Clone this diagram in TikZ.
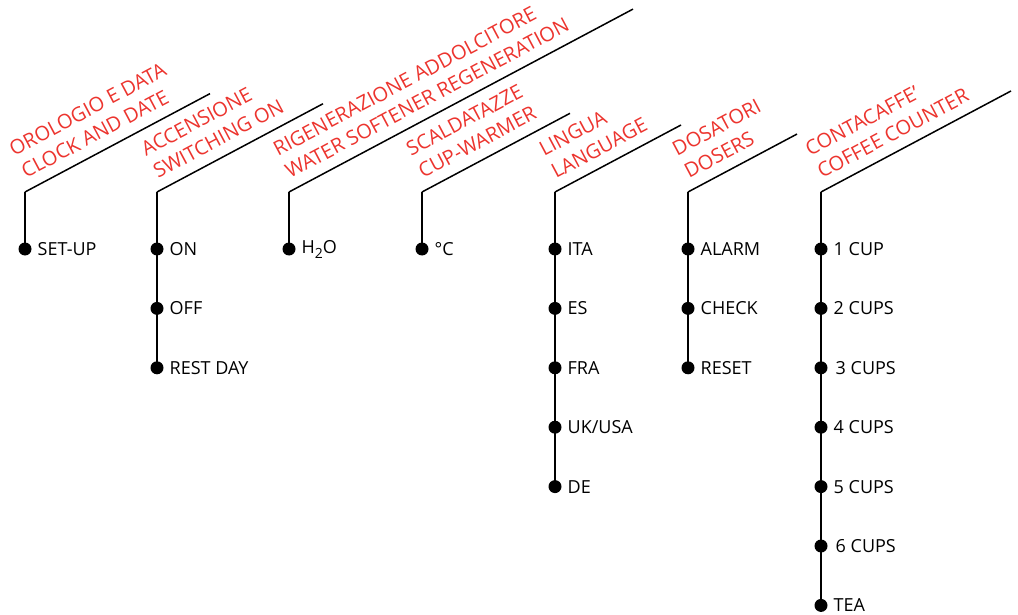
\documentclass[tikz,border=0pt]{standalone}
\usepackage{fontspec}
\setmainfont{Open Sans}
\usetikzlibrary{calc}
\definecolor{lblred}{RGB}{236,52,46}
\tikzset{
 stem/.style={line width=1.5pt, black},
 dotnode/.style={circle, fill=black, inner sep=0pt, minimum size=13pt},
 item/.style={anchor=west, inner sep=0pt, font=\fontsize{18}{20}\selectfont},
 head/.style={anchor=base west, inner sep=0pt, rotate=28, text=lblred, font=\fontsize{20}{22}\selectfont},
}
\newcommand\mkcol[6]{%
 \coordinate (#1c) at (#2,192);
 \coordinate (#1e) at (#3,{192-(#3-#2)*0.5317});
 \draw[stem] (#1e) -- (#1c);
 \node[head] (#1h1) at ($(#1c)+(-11,-35.4)$) {#4};
 \node[head] (#1h2) at ($(#1c)+(1,-13)$) {#5};
 \foreach \t [count=\i] in {#6} {
   \node[dotnode] (#1d\i) at (#2,{249+(\i-1)*59.4}) {};
   \node[item] (#1t\i) at (#2+12.5,{249+(\i-1)*59.4}) {\t};
   \xdef\lastidx{\i}
 }
 \draw[stem] (#1c) -- (#1d\lastidx.center);
}
\begin{document}
\begin{tikzpicture}[x=1pt,y=-1pt]
\useasboundingbox (0,0) rectangle (1018,615);
\mkcol{a}{25}{210}{OROLOGIO E DATA}{CLOCK AND DATE}{SET-UP}
\mkcol{b}{157}{323}{ACCENSIONE}{SWITCHING ON}{ON,OFF,REST DAY}
\mkcol{c}{289}{633}{RIGENERAZIONE ADDOLCITORE}{WATER SOFTENER REGENERATION}{{H\raisebox{-0.28em}{\fontsize{14}{14}\selectfont 2}O}}
\mkcol{d}{422}{570}{SCALDATAZZE}{CUP-WARMER}{°C}
\mkcol{e}{555}{681}{LINGUA}{LANGUAGE}{ITA,ES,FRA,UK/USA,DE}
\mkcol{f}{688}{797}{DOSATORI}{DOSERS}{ALARM,CHECK,RESET}
\mkcol{g}{821}{1011}{CONTACAFFE’}{COFFEE COUNTER}{1 CUP,2 CUPS,\hspace{2pt}3 CUPS,4 CUPS,5 CUPS,\hspace{2pt}6 CUPS,TEA}
\end{tikzpicture}
\end{document}
